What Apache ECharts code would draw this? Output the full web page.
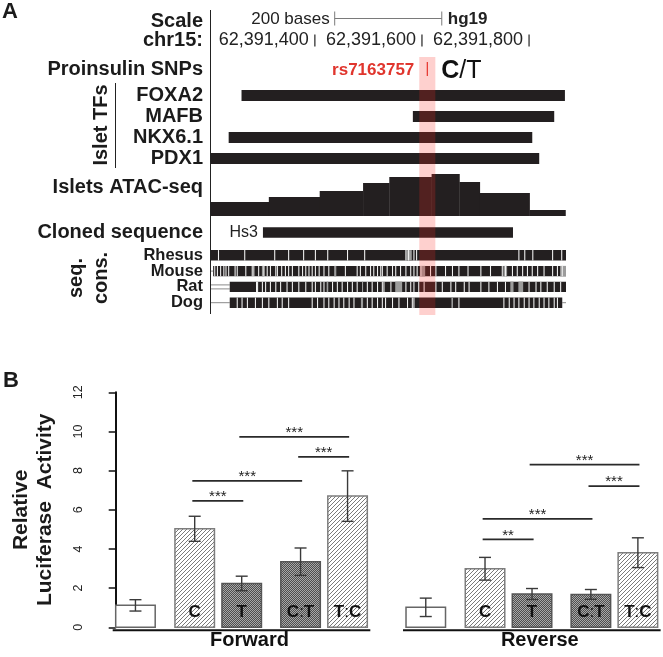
<!DOCTYPE html>
<html><head><meta charset="utf-8">
<script src="https://cdn.jsdelivr.net/npm/echarts/dist/echarts.min.js"></script>
<style>html,body{margin:0;padding:0;background:#fff}#c{width:663px;height:657px}</style>
</head><body><div id="c"></div>
<script>
// ================= DATA : panel A (hg19 chr15) =================
const chromTicks = [62391400, 62391600, 62391800];
const scaleBarStart = 62391437;
const scaleBarLength = 200;
const snpName = 'rs7163757';
const snpPos = 62391610;
const tfNames = ['FOXA2', 'MAFB', 'NKX6.1', 'PDX1'];
const tfStart = [62391263, 62391583, 62391239, 62391206];
const tfEnd   = [62391867, 62391847, 62391806, 62391819];
const atacEdges  = [62391206, 62391314, 62391409, 62391490, 62391539, 62391618, 62391670, 62391708, 62391801, 62391868];
const atacSignal = [14, 19, 25, 33, 39, 42, 34, 23, 6];
const cloneName = 'Hs3';
const cloneStart = 62391303, cloneEnd = 62391770;
const consSpecies = ['Rhesus', 'Mouse', 'Rat', 'Dog'];
const consBase = 62391206;            // offsets below are in bases from here
const consSpan = 663;
const consStartOff = [0, 4, 35, 35];
const consEndOff   = [663, 663, 663, 656];
const rhesusGaps = [13, 62, 118, 144, 172, 194, 217, 254, 286, 363, 368, 378, 383, 574, 585, 600, 637, 654];
const mouseGaps = [6, 11, 17, 23, 27, 32, 44, 48, 64, 76, 79, 88, 98, 104, 110, 120, 123, 131, 138, 144, 151, 163, 170, 176, 182, 188, 194, 201, 210, 219, 250, 272, 278, 288, 297, 303, 310, 316, 319, 328, 338, 344, 353, 363, 372, 378, 384, 391, 409, 419, 437, 450, 462, 479, 503, 521, 543, 549, 562, 571, 581, 590, 599, 609, 621, 637, 646, 655];
const ratGaps = [84, 86, 95, 101, 110, 120, 129, 141, 151, 163, 176, 188, 194, 204, 210, 226, 235, 244, 254, 263, 272, 291, 300, 310, 319, 322, 335, 363, 372, 378, 387, 397, 419, 431, 447, 456, 472, 481, 503, 518, 534, 549, 593, 606, 615, 627, 640, 652];
const dogGaps = [48, 57, 67, 82, 95, 107, 123, 132, 144, 188, 198, 210, 219, 229, 238, 247, 257, 266, 291, 300, 310, 319, 325, 338, 350, 366, 375, 378, 462, 546, 556, 565, 574, 584, 593, 602, 612, 621, 630, 640, 646];
const rhesusGray = [[365, 375]];
const mouseGray = [[95, 99], [230, 234], [391, 400], [546, 553], [652, 663]];
const ratGray = [[216, 219], [282, 284], [344, 357], [559, 565], [574, 583]];
const dogGray = [[280, 284], [449, 452]];

// ================= DATA : panel B (luciferase) =================
const groupNames = ['Forward', 'Reverse'];
const constructLabels = ['', 'C', 'T', 'C:T', 'T:C'];
const forwardMean = [1.12, 5.03, 2.24, 3.35, 6.70];
const forwardSEM  = [0.29, 0.64, 0.37, 0.70, 1.29];
const reverseMean = [1.02, 2.99, 1.70, 1.68, 3.81];
const reverseSEM  = [0.47, 0.58, 0.28, 0.25, 0.76];
const yMin = 0, yMax = 12, yStep = 2;
const forwardSigPairs = [[1, 2], [1, 3], [3, 4], [2, 4]];
const forwardSigLevel = [6.46, 7.48, 8.70, 9.72];
const forwardSigStars = ['***', '***', '***', '***'];
const reverseSigPairs = [[1, 2], [1, 3], [3, 4], [2, 4]];
const reverseSigLevel = [4.49, 5.54, 7.21, 8.31];
const reverseSigStars = ['**', '***', '***', '***'];

// ================= STYLE / LAYOUT =================
const FONT = '"Liberation Sans", Arial, Helvetica, sans-serif';
const INK = '#1b1b1b';
const TRACK = '#231f20';
const xMinA = 62391206, xMaxA = 62391869;
const slotLeft = [0, 1.5, 2.69, 4.18, 5.37];  // bar left edges inside a group (bar widths)
const groupStep = 7.35;
const fmt = v => String(v).replace(/\B(?=(\d{3})+(?!\d))/g, ',');

function hatchCanvas() {
  const n = 4, c = document.createElement('canvas'); c.width = c.height = n;
  const g = c.getContext('2d'); g.fillStyle = '#fff'; g.fillRect(0, 0, n, n);
  g.strokeStyle = '#7a7a7a'; g.lineWidth = 1; g.beginPath();
  g.moveTo(-1, n + 1); g.lineTo(n + 1, -1);
  g.moveTo(-1, 1); g.lineTo(1, -1);
  g.moveTo(n - 1, n + 1); g.lineTo(n + 1, n - 1);
  g.stroke(); return c;
}
function dotCanvas() {
  const c = document.createElement('canvas'); c.width = c.height = 2;
  const g = c.getContext('2d'); g.fillStyle = '#4e4e4e'; g.fillRect(0, 0, 2, 2);
  g.fillStyle = '#a8a8a8'; g.fillRect(0, 0, 1, 1); g.fillRect(1, 1, 1, 1); return c;
}
const HATCH = { image: hatchCanvas(), repeat: 'repeat' };
const DOTS = { image: dotCanvas(), repeat: 'repeat' };
const barFill = [ '#ffffff', HATCH, DOTS, DOTS, HATCH ];
const barStroke = [ '#666', '#7d7d7d', '#555', '#555', '#7d7d7d' ];

function gridA(top, height) { return { left: 211, width: 355, top: top, height: height, containLabel: false, outerBoundsMode: 'none' }; }
const grids = [
  gridA(12, 38),      // 0 scale + chr15
  gridA(58, 22),      // 1 SNP
  gridA(85, 84),      // 2 TFs
  gridA(172, 44),     // 3 ATAC
  gridA(222, 21),     // 4 cloned sequence
  gridA(247.4, 63.2), // 5 conservation
  gridA(57, 258),     // 6 SNP highlight overlay
  { left: 95, top: 392.3, width: 565, height: 235, containLabel: false, outerBoundsMode: 'none' } // 7 panel B
];
const xAxes = [];
for (let i = 0; i < 7; i++) xAxes.push({ gridIndex: i, type: 'value', min: xMinA, max: xMaxA, show: false });
xAxes.push({ gridIndex: 7, type: 'value', min: -0.524, max: 13.78, show: false });

function catAxis(grid, cats, size, pad) {
  return { gridIndex: grid, type: 'category', inverse: true, data: cats,
    axisLine: { show: false }, axisTick: { show: false }, splitLine: { show: false },
    axisLabel: { interval: 0, margin: 8, color: INK, fontWeight: 'bold', fontSize: size, fontFamily: FONT, padding: pad || 0 } };
}
const yAxes = [
  catAxis(0, ['Scale', 'chr15:'], 20),
  catAxis(1, ['Proinsulin SNPs'], 20),
  catAxis(2, tfNames, 20),
  { gridIndex: 3, type: 'value', min: 0, max: 44, show: false },
  catAxis(4, ['Cloned sequence'], 20, [0, 0, 6, 0]),
  catAxis(5, consSpecies, 16.5, [0, 0, 8, 0]),
  { gridIndex: 6, type: 'value', min: 0, max: 1, show: false },
  { gridIndex: 7, type: 'value', min: yMin, max: yMax, interval: yStep,
    name: 'Relative\nLuciferase  Activity', nameLocation: 'middle', nameRotate: 90, nameGap: 38,
    nameTextStyle: { fontFamily: FONT, fontWeight: 'bold', fontSize: 21, lineHeight: 24, color: INK },
    axisLine: { show: true, lineStyle: { color: '#111', width: 2 } },
    axisTick: { show: true, length: 7, lineStyle: { color: '#111', width: 1.5 } },
    splitLine: { show: false },
    axisLabel: { rotate: 90, margin: 10, fontSize: 12.5, color: '#222', fontFamily: FONT } }
];

// -------- series for panel A --------
const scaleSeries = { type: 'custom', xAxisIndex: 0, yAxisIndex: 0, encode: { x: [0, 1], y: 2 },
  data: [[scaleBarStart, scaleBarStart + scaleBarLength, 0]],
  renderItem: (p, api) => {
    const a = api.coord([api.value(0), 0]), b = api.coord([api.value(1), 0]); const y = a[1] - 3;
    const st = { stroke: '#7a7a7a', lineWidth: 1 };
    return { type: 'group', children: [
      { type: 'line', shape: { x1: a[0], y1: y, x2: b[0], y2: y }, style: st },
      { type: 'line', shape: { x1: a[0], y1: y - 7, x2: a[0], y2: y + 7 }, style: st },
      { type: 'line', shape: { x1: b[0], y1: y - 7, x2: b[0], y2: y + 7 }, style: st },
      { type: 'text', x: a[0] - 5, y: y + 1, style: { text: scaleBarLength + ' bases', align: 'right', verticalAlign: 'middle', fontSize: 17, fontFamily: FONT, fill: '#222' } },
      { type: 'text', x: b[0] + 6, y: y + 1, style: { text: 'hg19', align: 'left', verticalAlign: 'middle', fontSize: 17, fontWeight: 'bold', fontFamily: FONT, fill: '#222' } }
    ] };
  } };
const tickSeries = { type: 'custom', xAxisIndex: 0, yAxisIndex: 0,
  data: chromTicks.map(t => [t, 1]),
  renderItem: (p, api) => {
    const c = api.coord([api.value(0), 1]);
    return { type: 'group', children: [
      { type: 'text', x: c[0] - 6, y: c[1], style: { text: fmt(api.value(0)), align: 'right', verticalAlign: 'middle', fontSize: 18, fontFamily: FONT, fill: '#222' } },
      { type: 'line', shape: { x1: c[0], y1: c[1] - 6, x2: c[0], y2: c[1] + 6 }, style: { stroke: '#222', lineWidth: 1.2 } }
    ] };
  } };
const snpSeries = { type: 'custom', xAxisIndex: 1, yAxisIndex: 1,
  data: [[snpPos, 0]],
  renderItem: (p, api) => {
    const c = api.coord([api.value(0), 0]);
    return { type: 'group', children: [
      { type: 'line', shape: { x1: c[0], y1: c[1] - 7, x2: c[0], y2: c[1] + 7 }, style: { stroke: '#e0352d', lineWidth: 1.2 } },
      { type: 'text', x: c[0] - 13, y: c[1] + 1, style: { text: snpName, align: 'right', verticalAlign: 'middle', fontSize: 17, fontWeight: 'bold', fontFamily: FONT, fill: '#e0352d' } },
      { type: 'text', x: c[0] + 14, y: c[1] + 2, style: { text: '{b|C}{n|/T}', align: 'left', verticalAlign: 'middle',
        rich: { b: { fontSize: 25, fontWeight: 'bold', fontFamily: FONT, fill: '#111' }, n: { fontSize: 25, fontFamily: FONT, fill: '#111' } } } }
    ] };
  } };
const tfSeries = { type: 'custom', xAxisIndex: 2, yAxisIndex: 2, encode: { x: [0, 1], y: 2 },
  data: tfNames.map((n, i) => [tfStart[i], tfEnd[i], i]),
  renderItem: (p, api) => {
    const a = api.coord([api.value(0), api.value(2)]), b = api.coord([api.value(1), api.value(2)]);
    const h = api.size([0, 1])[1] * 0.52;
    return { type: 'rect', shape: { x: a[0], y: a[1] - h / 2, width: b[0] - a[0], height: h }, style: { fill: TRACK } };
  } };
const atacSeries = { type: 'custom', xAxisIndex: 3, yAxisIndex: 3, encode: { x: [0, 1], y: 2 },
  data: atacSignal.map((v, i) => [atacEdges[i], atacEdges[i + 1], v]),
  renderItem: (p, api) => {
    const a = api.coord([api.value(0), api.value(2)]), b = api.coord([api.value(1), 0]);
    return { type: 'rect', shape: { x: a[0], y: a[1], width: b[0] - a[0] + 0.3, height: b[1] - a[1] }, style: { fill: TRACK } };
  } };
const cloneSeries = { type: 'custom', xAxisIndex: 4, yAxisIndex: 4, encode: { x: [0, 1], y: 2 },
  data: [[cloneStart, cloneEnd, 0]],
  renderItem: (p, api) => {
    const a = api.coord([api.value(0), 0]), b = api.coord([api.value(1), 0]);
    const h = 10.7;
    return { type: 'group', children: [
      { type: 'rect', shape: { x: a[0], y: a[1] - h / 2, width: b[0] - a[0], height: h }, style: { fill: TRACK } },
      { type: 'text', x: a[0] - 5, y: a[1] + 0.5, style: { text: cloneName, align: 'right', verticalAlign: 'middle', fontSize: 16, fontFamily: FONT, fill: '#222' } }
    ] };
  } };
const consGaps = [rhesusGaps, mouseGaps, ratGaps, dogGaps];
const consGray = [rhesusGray, mouseGray, ratGray, dogGray];
const consSeries = { type: 'custom', xAxisIndex: 5, yAxisIndex: 5, encode: { x: [0, 1], y: 2 },
  data: consSpecies.map((s, i) => [consBase + consStartOff[i], consBase + consEndOff[i], i]),
  renderItem: (p, api) => {
    const i = p.dataIndex;
    const a = api.coord([api.value(0), i]), b = api.coord([api.value(1), i]);
    const y = a[1], h = api.size([0, 1])[1] * 0.66;
    const ch = [];
    const x0 = api.coord([consBase, i])[0], xEnd = api.coord([consBase + consSpan, i])[0];
    if (a[0] - x0 > 1) {
      if (i === 2) {
        ch.push({ type: 'line', shape: { x1: x0, y1: y - 2, x2: a[0], y2: y - 2 }, style: { stroke: '#8a8a8a', lineWidth: 1 } });
        ch.push({ type: 'line', shape: { x1: x0, y1: y + 2, x2: a[0], y2: y + 2 }, style: { stroke: '#8a8a8a', lineWidth: 1 } });
      } else {
        ch.push({ type: 'line', shape: { x1: x0, y1: y, x2: a[0], y2: y }, style: { stroke: '#8a8a8a', lineWidth: 1 } });
      }
    }
    if (xEnd - b[0] > 1) ch.push({ type: 'line', shape: { x1: b[0], y1: y, x2: xEnd, y2: y }, style: { stroke: '#8a8a8a', lineWidth: 1 } });
    ch.push({ type: 'rect', shape: { x: a[0], y: y - h / 2, width: b[0] - a[0], height: h }, style: { fill: TRACK } });
    consGray[i].forEach(g => {
      const g1 = api.coord([consBase + g[0], i])[0], g2 = api.coord([consBase + g[1], i])[0];
      ch.push({ type: 'rect', shape: { x: g1, y: y - h / 2, width: g2 - g1, height: h }, style: { fill: '#9c9c9c' } });
    });
    consGaps[i].forEach(g => {
      const g1 = api.coord([consBase + g, i])[0], g2 = api.coord([consBase + g + 2, i])[0];
      ch.push({ type: 'rect', shape: { x: g1, y: y - h / 2, width: Math.max(1, g2 - g1), height: h }, style: { fill: '#f2f2f2' } });
    });
    return { type: 'group', children: ch };
  } };
const bandSeries = { type: 'custom', xAxisIndex: 6, yAxisIndex: 6, z: 10,
  data: [[snpPos, 0]],
  renderItem: (p, api) => {
    const a = api.coord([api.value(0) - 15, 1]), b = api.coord([api.value(0) + 15, 0]);
    return { type: 'rect', shape: { x: a[0], y: a[1], width: b[0] - a[0], height: b[1] - a[1] }, style: { fill: 'rgba(250,40,30,0.22)' } };
  } };

// -------- series for panel B --------
const means = [forwardMean, reverseMean], sems = [forwardSEM, reverseSEM];
const barData = [];
groupNames.forEach((g, gi) => constructLabels.forEach((c, ci) => barData.push([gi, ci, means[gi][ci], sems[gi][ci]])));
const xLeft = (gi, ci) => gi * groupStep + slotLeft[ci];
const xCenter = (gi, ci) => xLeft(gi, ci) + 0.5;
const barSeries = { type: 'custom', xAxisIndex: 7, yAxisIndex: 7, encode: { x: 0, y: 2 },
  data: barData,
  renderItem: (p, api) => {
    const gi = api.value(0), ci = api.value(1), m = api.value(2), s = api.value(3);
    const tl = api.coord([xLeft(gi, ci), m]), br = api.coord([xLeft(gi, ci) + 1, 0]);
    const cx = (tl[0] + br[0]) / 2;
    const hi = api.coord([0, m + s])[1], lo = api.coord([0, m - s])[1];
    const es = { stroke: '#3a3a3a', lineWidth: 1.4 };
    const ch = [
      { type: 'rect', shape: { x: tl[0], y: tl[1], width: br[0] - tl[0], height: br[1] - tl[1] }, style: { fill: barFill[ci], stroke: barStroke[ci], lineWidth: 1.5 } },
      { type: 'line', shape: { x1: cx, y1: hi, x2: cx, y2: lo }, style: es },
      { type: 'line', shape: { x1: cx - 6, y1: hi, x2: cx + 6, y2: hi }, style: es },
      { type: 'line', shape: { x1: cx - 6, y1: lo, x2: cx + 6, y2: lo }, style: es }
    ];
    const lab = constructLabels[ci];
    if (lab) {
      const parts = lab.split(':');
      const txt = parts.length === 2 ? '{b|' + parts[0] + '}{n|:}{b|' + parts[1] + '}' : '{b|' + lab + '}';
      ch.push({ type: 'text', x: cx, y: br[1] - 15, style: { text: txt, align: 'center', verticalAlign: 'middle',
        rich: { b: { fontSize: 17, fontWeight: 'bold', fontFamily: FONT, fill: '#111' }, n: { fontSize: 17, fontFamily: FONT, fill: '#111' } } } });
    }
    return { type: 'group', children: ch };
  } };
const sigPairs = [forwardSigPairs, reverseSigPairs], sigLevel = [forwardSigLevel, reverseSigLevel], sigStars = [forwardSigStars, reverseSigStars];
const sigData = [];
groupNames.forEach((g, gi) => sigPairs[gi].forEach((pr, k) => sigData.push([gi, pr[0], pr[1], sigLevel[gi][k], k])));
const sigSeries = { type: 'custom', xAxisIndex: 7, yAxisIndex: 7, encode: { x: 0, y: 3 },
  data: sigData,
  renderItem: (p, api) => {
    const gi = api.value(0), i = api.value(1), j = api.value(2), lv = api.value(3), k = api.value(4);
    const a = api.coord([xCenter(gi, i) - 0.06, lv]), b = api.coord([xCenter(gi, j) + 0.04, lv]);
    return { type: 'group', children: [
      { type: 'line', shape: { x1: a[0], y1: a[1], x2: b[0], y2: b[1] }, style: { stroke: '#2a2a2a', lineWidth: 1.8 } },
      { type: 'text', x: (a[0] + b[0]) / 2, y: a[1] - 4, style: { text: sigStars[gi][k], align: 'center', verticalAlign: 'middle', fontSize: 15, fontFamily: FONT, fill: '#222' } }
    ] };
  } };
const groupSeries = { type: 'custom', xAxisIndex: 7, yAxisIndex: 7, encode: { x: 0, y: 1 },
  data: groupNames.map((g, gi) => [gi, 0]),
  renderItem: (p, api) => {
    const gi = api.value(0);
    const a = api.coord([xLeft(gi, 0), 0]), b = api.coord([xLeft(gi, 4) + 1, 0]);
    const y = a[1] + 3;
    return { type: 'group', children: [
      { type: 'line', shape: { x1: a[0] - 3, y1: y, x2: b[0] + 3, y2: y }, style: { stroke: '#111', lineWidth: 2 } },
      { type: 'text', x: (a[0] + b[0]) / 2 + 8, y: y + 10, style: { text: groupNames[gi], align: 'center', verticalAlign: 'middle', fontSize: 20, fontWeight: 'bold', fontFamily: FONT, fill: '#111' } }
    ] };
  } };

// -------- static annotations --------
function txt(x, y, s, opt) {
  return Object.assign({ type: 'text', x: x, y: y, style: Object.assign({ text: s, fontFamily: FONT, fontWeight: 'bold', fontSize: 20, fill: INK, align: 'right', verticalAlign: 'middle' }, opt && opt.style) }, opt && opt.el);
}
const graphics = [
  txt(2, 12, 'A', { style: { fontSize: 22, align: 'left' } }),
  txt(3, 381, 'B', { style: { fontSize: 22, align: 'left' } }),
  txt(203, 187, 'Islets ATAC-seq'),
  txt(101, 125, 'Islet TFs', { style: { align: 'center' }, el: { rotation: Math.PI / 2 } }),
  txt(76, 278, 'seq.', { style: { align: 'center' }, el: { rotation: Math.PI / 2 } }),
  txt(101, 278, 'cons.', { style: { align: 'center' }, el: { rotation: Math.PI / 2 } }),
  { type: 'line', shape: { x1: 210.5, y1: 10, x2: 210.5, y2: 314 }, style: { stroke: '#222', lineWidth: 1 } },
  { type: 'line', shape: { x1: 115.5, y1: 83, x2: 115.5, y2: 168 }, style: { stroke: '#222', lineWidth: 1 } }
];

const chart = echarts.init(document.getElementById('c'), null, { renderer: 'canvas' });
chart.setOption({
  backgroundColor: '#fff',
  animation: false,
  grid: grids, xAxis: xAxes, yAxis: yAxes,
  graphic: graphics,
  series: [scaleSeries, tickSeries, snpSeries, tfSeries, atacSeries, cloneSeries, consSeries, bandSeries, barSeries, sigSeries, groupSeries]
});
</script></body></html>
